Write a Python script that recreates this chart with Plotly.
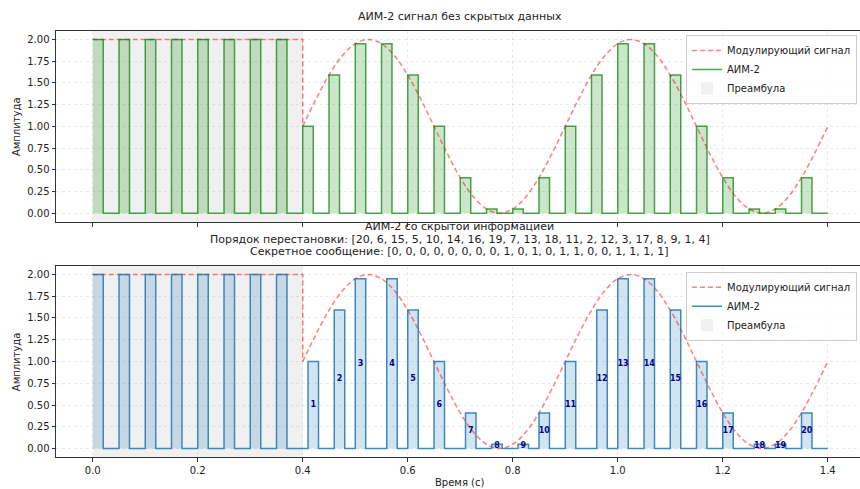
import plotly.graph_objects as go

# ---------------- data ----------------
preamble_starts = [0.00, 0.05, 0.10, 0.15, 0.20, 0.25, 0.30, 0.35]
preamble_level = 2.0
preamble_end = 0.4
signal_end = 1.4

plain_starts = [0.40, 0.45, 0.50, 0.55, 0.60, 0.65, 0.70, 0.75, 0.80, 0.85,
                0.90, 0.95, 1.00, 1.05, 1.10, 1.15, 1.20, 1.25, 1.30, 1.35]
hidden_starts = [0.41, 0.46, 0.50, 0.56, 0.60, 0.65, 0.71, 0.76, 0.81, 0.85,
                 0.90, 0.96, 1.00, 1.05, 1.10, 1.15, 1.20, 1.26, 1.30, 1.35]
amplitudes = [1.00, 1.59, 1.95, 1.95, 1.59, 1.00, 0.41, 0.05, 0.05, 0.41,
              1.00, 1.59, 1.95, 1.95, 1.59, 1.00, 0.41, 0.05, 0.05, 0.41]
pulse_numbers = [1, 2, 3, 4, 5, 6, 7, 8, 9, 10, 11, 12, 13, 14, 15, 16, 17, 18, 19, 20]

mod_preamble_t = [0.0, 0.4, 0.4]
mod_preamble_v = [2.0, 2.0, 1.0]
mod_t = [0.400, 0.425, 0.450, 0.475, 0.500, 0.525, 0.550, 0.575, 0.600, 0.625,
         0.650, 0.675, 0.700, 0.725, 0.750, 0.775, 0.800, 0.825, 0.850, 0.875,
         0.900, 0.925, 0.950, 0.975, 1.000, 1.025, 1.050, 1.075, 1.100, 1.125,
         1.150, 1.175, 1.200, 1.225, 1.250, 1.275, 1.300, 1.325, 1.350, 1.375, 1.400]
mod_v = [1.00, 1.31, 1.59, 1.81, 1.95, 2.00, 1.95, 1.81, 1.59, 1.31,
         1.00, 0.69, 0.41, 0.19, 0.05, 0.00, 0.05, 0.19, 0.41, 0.69,
         1.00, 1.31, 1.59, 1.81, 1.95, 2.00, 1.95, 1.81, 1.59, 1.31,
         1.00, 0.69, 0.41, 0.19, 0.05, 0.00, 0.05, 0.19, 0.41, 0.69, 1.00]

permutation = [20, 6, 15, 5, 10, 14, 16, 19, 7, 13, 18, 11, 2, 12, 3, 17, 8, 9, 1, 4]
secret_bits = [0, 0, 0, 0, 0, 0, 0, 0, 1, 0, 1, 0, 1, 1, 0, 0, 1, 1, 1, 1]

x_ticks = [0.0, 0.2, 0.4, 0.6, 0.8, 1.0, 1.2, 1.4]
y_ticks = [0.0, 0.25, 0.5, 0.75, 1.0, 1.25, 1.5, 1.75, 2.0]

# ---------------- styling ----------------
PULSE_W = 0.02
FONT = "DejaVu Sans"
W, H = 860, 489
PLOT_L = 56
X_RANGE = [-0.07, -0.07 + (W - PLOT_L) / 525.0]
TOP_DOM = [1 - 222 / H, 1 - 30.7 / H]
BOT_DOM = [1 - 457.3 / H, 1 - 265.7 / H]
GREEN_LINE = "rgba(0,128,0,0.7)"
GREEN_FILL = "rgba(0,128,0,0.2)"
BLUE_LINE = "rgba(31,119,180,0.85)"
BLUE_FILL = "rgba(31,119,180,0.2)"
RED_DASH = "rgba(255,0,0,0.5)"
PRE_FILL = "rgba(128,128,128,0.12)"


def step_xy(starts, amps):
    xs, ys = [], []
    for s, a in zip(starts, amps):
        xs += [s, s, s + PULSE_W, s + PULSE_W]
        ys += [0, a, a, 0]
    if xs[0] == 0:
        xs, ys = xs[1:], ys[1:]
    xs.append(signal_end)
    ys.append(0)
    return xs, ys


pre_amps = [preamble_level] * len(preamble_starts)
x_top, y_top = step_xy(preamble_starts + plain_starts, pre_amps + amplitudes)
x_bot, y_bot = step_xy(preamble_starts + hidden_starts, pre_amps + amplitudes)

fig = go.Figure()


def add_panel(xa, ya, legend, xs, ys, line_c, fill_c):
    fig.add_trace(go.Scatter(x=xs, y=ys, mode="lines", fill="tozeroy",
                             fillcolor=fill_c, line=dict(width=0),
                             xaxis=xa, yaxis=ya, showlegend=False, hoverinfo="skip"))
    fig.add_trace(go.Scatter(x=mod_preamble_t, y=mod_preamble_v, mode="lines",
                             line=dict(color=RED_DASH, width=1.5, dash="5px,3px"),
                             xaxis=xa, yaxis=ya, showlegend=False, legendgroup="m" + legend))
    fig.add_trace(go.Scatter(x=mod_t, y=mod_v, mode="lines", line_shape="spline",
                             line=dict(color=RED_DASH, width=1.5, dash="5px,3px"),
                             name="Модулирующий сигнал", legend=legend, legendgroup="m" + legend,
                             xaxis=xa, yaxis=ya))
    fig.add_trace(go.Scatter(x=xs, y=ys, mode="lines",
                             line=dict(color=line_c, width=1.5),
                             name="АИМ-2", legend=legend, xaxis=xa, yaxis=ya))
    fig.add_shape(type="rect", xref=xa, yref=ya + " domain", x0=0, x1=preamble_end,
                  y0=0, y1=1, fillcolor=PRE_FILL, line=dict(width=0), layer="below",
                  showlegend=True, name="Преамбула", legend=legend)


add_panel("x", "y", "legend", x_top, y_top, GREEN_LINE, GREEN_FILL)
add_panel("x2", "y2", "legend2", x_bot, y_bot, BLUE_LINE, BLUE_FILL)

# pulse numbers
fig.add_trace(go.Scatter(
    x=[s + PULSE_W / 2 for s in hidden_starts],
    y=[a / 2 for a in amplitudes],
    text=[str(n) for n in pulse_numbers], mode="text",
    textfont=dict(family=FONT, size=8, color="#00008B", weight="bold"),
    xaxis="x2", yaxis="y2", showlegend=False, hoverinfo="skip"))

axis_common = dict(showline=True, linecolor="#333333", linewidth=1, automargin=False,
                   ticks="outside", ticklen=3.5, tickwidth=1, tickcolor="#333333",
                   showgrid=True, gridcolor="rgba(176,176,176,0.28)", griddash="dot",
                   gridwidth=1, zeroline=False,
                   tickfont=dict(family=FONT, size=10, color="#222222"))

legend_common = dict(xanchor="right", yanchor="top",
                     bgcolor="rgba(255,255,255,0.8)", bordercolor="#cccccc", borderwidth=1,
                     font=dict(family=FONT, size=10, color="#222222"), tracegroupgap=0,
                     itemwidth=30)

fig.update_layout(
    width=W, height=H, margin=dict(l=0, r=0, t=0, b=0, autoexpand=False),
    paper_bgcolor="white", plot_bgcolor="white",
    xaxis=dict(domain=[PLOT_L / W, 1], range=X_RANGE, anchor="y", tickvals=x_ticks,
               showticklabels=False, mirror=True, **axis_common),
    yaxis=dict(domain=TOP_DOM, range=[-0.1, 2.1], anchor="x", tickvals=y_ticks,
               tickformat=".2f", mirror=False, **axis_common),
    xaxis2=dict(domain=[PLOT_L / W, 1], range=X_RANGE, anchor="y2", tickvals=x_ticks,
                tickformat=".1f", matches="x", mirror=True, **axis_common),
    yaxis2=dict(domain=BOT_DOM, range=[-0.1, 2.1], anchor="x2", tickvals=y_ticks,
                tickformat=".2f", mirror=False, **axis_common),
    legend=dict(x=857 / W, y=1 - 35 / H, **legend_common),
    legend2=dict(x=857 / W, y=1 - 271.7 / H, **legend_common),
    showlegend=True,
)

cx = 460 / W
title_font = dict(family=FONT, size=11, color="#222222")
annots = [
    ("АИМ-2 сигнал без скрытых данных", 16.5),
    ("АИМ-2 со скрытой информацией", 226.7),
    ("Порядок перестановки: [" + ", ".join(str(p) for p in permutation) + "]", 239.0),
    ("Секретное сообщение: [" + ", ".join(str(b) for b in secret_bits) + "]", 251.3),
]
for txt, ypx in annots:
    fig.add_annotation(text=txt, x=cx, y=1 - ypx / H, xref="paper", yref="paper",
                       xanchor="center", yanchor="middle", showarrow=False, font=title_font)

lab_font = dict(family=FONT, size=10, color="#222222")
for ymid in [(30.7 + 222) / 2, (265.7 + 457.3) / 2]:
    fig.add_annotation(text="Амплитуда", x=16.7 / W, y=1 - ymid / H, xref="paper", yref="paper",
                       xanchor="center", yanchor="middle", textangle=-90, showarrow=False,
                       font=lab_font)
fig.add_annotation(text="Время (с)", x=cx, y=1 - 482 / H, xref="paper", yref="paper",
                   xanchor="center", yanchor="middle", showarrow=False, font=lab_font)

fig.write_html("out.html", config={"displayModeBar": False},
               post_script="document.body.style.margin='0';document.body.style.overflow='hidden';")
